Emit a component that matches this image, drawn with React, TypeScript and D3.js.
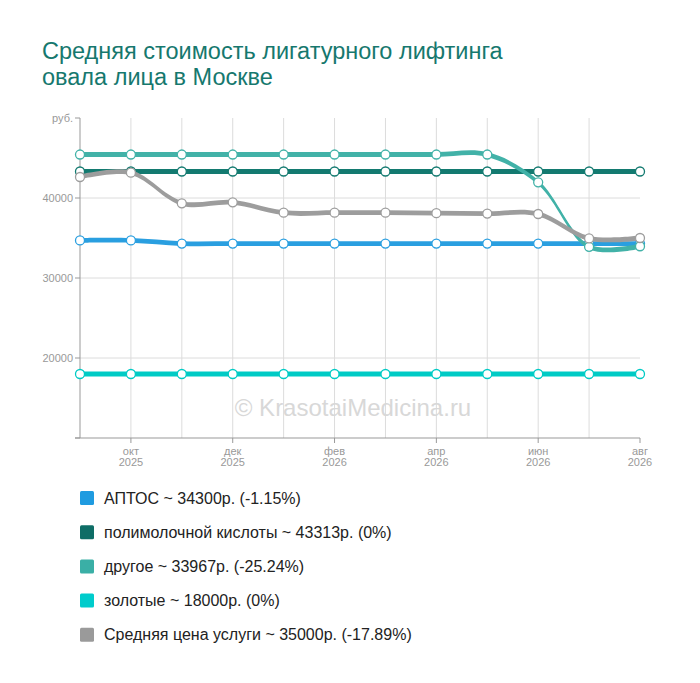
import * as d3 from "d3";

// months: sep 2025 .. aug 2026
const months = [
  "2025-09", "2025-10", "2025-11", "2025-12", "2026-01", "2026-02",
  "2026-03", "2026-04", "2026-05", "2026-06", "2026-07", "2026-08",
];
const tickMonths = ["2025-10", "2025-12", "2026-02", "2026-04", "2026-06", "2026-08"];
const tickNames = ["окт", "дек", "фев", "апр", "июн", "авг"];
const tickYears = ["2025", "2025", "2026", "2026", "2026", "2026"];

const yTicks = [10000, 20000, 30000, 40000, 50000];

const aptos = [34700, 34700, 34300, 34300, 34300, 34300, 34300, 34300, 34300, 34300, 34300, 34300];
const polylactic = [43313, 43313, 43313, 43313, 43313, 43313, 43313, 43313, 43313, 43313, 43313, 43313];
const other = [45435, 45435, 45435, 45435, 45435, 45435, 45435, 45435, 45435, 41960, 33900, 33967];
const golden = [18000, 18000, 18000, 18000, 18000, 18000, 18000, 18000, 18000, 18000, 18000, 18000];
const average = [42626, 43160, 39340, 39460, 38160, 38160, 38160, 38100, 38050, 38000, 34950, 35000];

const seriesNames = [
  "АПТОС ~ 34300р. (-1.15%)",
  "полимолочной кислоты ~ 43313р. (0%)",
  "другое ~ 33967р. (-25.24%)",
  "золотые ~ 18000р. (0%)",
  "Средняя цена услуги ~ 35000р. (-17.89%)",
];

const seriesList = [
  { values: aptos, line: "#2a9fe0", legend: "#1f9be0" },
  { values: polylactic, line: "#137a70", legend: "#0e6d66" },
  { values: other, line: "#42b2a8", legend: "#3aafa6" },
  { values: golden, line: "#00cbc5", legend: "#00cccc" },
  { values: average, line: "#9d9d9d", legend: "#9a9a9a" },
];

const FONT = "'Liberation Sans', Arial, sans-serif";

export default function App() {
  const W = 700;
  const H = 683;
  const left = 80;
  const right = 640;
  const top = 118;
  const bottom = 438;

  const x = d3.scalePoint<string>().domain(months).range([left, right]);
  const y = d3.scaleLinear().domain([10000, 50000]).range([bottom, top]);

  // constant vertical thickness band, like the original renderer
  const band = d3
    .area<number>()
    .x((_, i) => x(months[i])!)
    .y0((d) => y(d) - 2.4)
    .y1((d) => y(d) + 2.4)
    .curve(d3.curveCatmullRom);

  const line = d3
    .line<number>()
    .x((_, i) => x(months[i])!)
    .y((d) => y(d))
    .curve(d3.curveCatmullRom);

  return (
    <svg
      width={W}
      height={H}
      style={{ position: "absolute", left: 0, top: 0, background: "#fff" }}
      fontFamily={FONT}
    >
      {/* title */}
      <text x={42} y={59} fontSize={23.5} fill="#16786e">
        Средняя стоимость лигатурного лифтинга
      </text>
      <text x={42} y={84.5} fontSize={23.5} fill="#16786e">
        овала лица в Москве
      </text>

      {/* grid */}
      {yTicks.slice(1, 4).map((t) => (
        <line key={t} x1={left} x2={right} y1={y(t)} y2={y(t)} stroke="#dcdcdc" />
      ))}
      {months.slice(1, 11).map((m) => (
        <line key={m} x1={x(m)} x2={x(m)} y1={top} y2={bottom} stroke="#dcdcdc" />
      ))}

      {/* watermark */}
      <text x={353} y={416} fontSize={24} fill="#d8d8d8" textAnchor="middle">
        © KrasotaiMedicina.ru
      </text>

      {/* y axis */}
      <line x1={left} x2={left} y1={top} y2={bottom} stroke="#999" />
      {yTicks.map((t) => (
        <g key={t}>
          <line x1={left - 5} x2={left} y1={y(t)} y2={y(t)} stroke="#999" />
          {t > 10000 && (
            <text x={left - 7} y={y(t) + 4} fontSize={11} fill="#999" textAnchor="end">
              {t === 50000 ? "руб." : t}
            </text>
          )}
        </g>
      ))}

      {/* x axis */}
      <line x1={left - 5} x2={right} y1={bottom} y2={bottom} stroke="#999" />
      {tickMonths.map((m, i) => (
        <g key={m}>
          <line x1={x(m)} x2={x(m)} y1={bottom} y2={bottom + 5} stroke="#999" />
          <text x={x(m)} y={bottom + 17} fontSize={11} fill="#999" textAnchor="middle">
            {tickNames[i]}
          </text>
          <text x={x(m)} y={bottom + 28} fontSize={11} fill="#999" textAnchor="middle">
            {tickYears[i]}
          </text>
        </g>
      ))}

      {/* series */}
      {seriesList.map((s, si) => (
        <g key={si}>
          <path d={band(s.values)!} fill={s.line} />
          <path d={line(s.values)!} fill="none" stroke={s.line} strokeWidth={1.2} />
          {s.values.map((v, i) => (
            <circle
              key={i}
              cx={x(months[i])}
              cy={y(v)}
              r={4.5}
              fill="#fff"
              stroke={s.line}
              strokeWidth={1.3}
            />
          ))}
        </g>
      ))}

      {/* legend */}
      {seriesNames.map((name, i) => (
        <g key={name} transform={`translate(80,${498 + i * 34.2})`}>
          <rect x={0} y={-7} width={14} height={14} rx={1.5} fill={seriesList[i].legend} />
          <text x={24} y={5.5} fontSize={16} fill="#222">
            {name}
          </text>
        </g>
      ))}
    </svg>
  );
}
